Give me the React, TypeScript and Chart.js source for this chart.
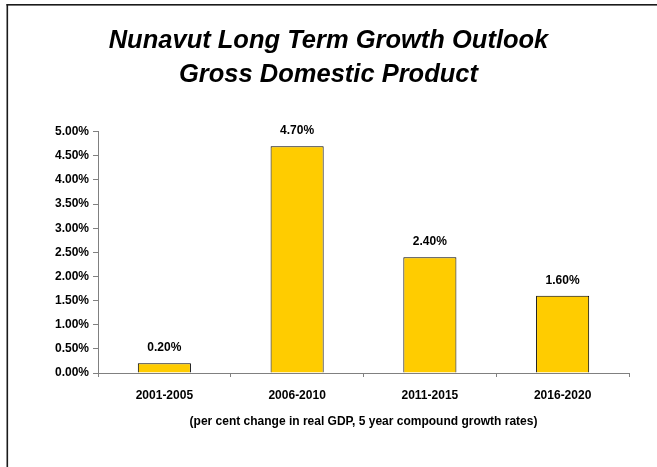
import React, { useEffect, useRef } from "react";
import { Chart, registerables } from "chart.js";

Chart.register(...registerables);

const categories = ["2001-2005", "2006-2010", "2011-2015", "2016-2020"];
const growthValues = [0.2, 4.7, 2.4, 1.6];
const titleLines = ["Nunavut Long Term Growth Outlook", "Gross Domestic Product"];
const xAxisTitle = "(per cent change in real GDP, 5 year compound growth rates)";
const yMin = 0;
const yMax = 5;
const yStep = 0.5;

const FONT = "'Liberation Sans', Arial, Helvetica, sans-serif";

const borderPlugin = {
  id: "frameBorder",
  beforeDraw(chart: any) {
    const ctx = chart.ctx;
    ctx.save();
    ctx.fillStyle = "#ffffff";
    ctx.fillRect(0, 0, chart.width, chart.height);
    ctx.fillStyle = "#1a1a1a";
    ctx.fillRect(6.5, 4, 1.6, chart.height);
    ctx.fillRect(6.5, 4, chart.width, 1.6);
    ctx.restore();
  },
};

const titlePlugin = {
  id: "centredTitle",
  afterDraw(chart: any) {
    const ctx = chart.ctx;
    ctx.save();
    ctx.font = `italic bold 25.5px ${FONT}`;
    ctx.fillStyle = "#000";
    ctx.textAlign = "center";
    ctx.textBaseline = "alphabetic";
    const baselines = [47.5, 82];
    titleLines.forEach((line, i) => {
      ctx.fillText(line, 328.5, baselines[i]);
    });
    ctx.restore();
  },
};

const valueLabelPlugin = {
  id: "valueLabels",
  afterDatasetsDraw(chart: any) {
    const ctx = chart.ctx;
    const meta = chart.getDatasetMeta(0);
    const data = chart.data.datasets[0].data as number[];
    ctx.save();
    ctx.font = `bold 12px ${FONT}`;
    ctx.fillStyle = "#000";
    ctx.textAlign = "center";
    ctx.textBaseline = "alphabetic";
    meta.data.forEach((bar: any, i: number) => {
      ctx.fillText(data[i].toFixed(2) + "%", bar.x, bar.y - 12);
    });
    ctx.restore();
  },
};

export default function App() {
  const ref = useRef<HTMLCanvasElement | null>(null);

  useEffect(() => {
    document.body.style.margin = "0";
    if (!ref.current) return;
    const chart = new Chart(ref.current, {
      type: "bar",
      data: {
        labels: categories,
        datasets: [
          {
            data: growthValues,
            backgroundColor: "#FFCC00",
            borderColor: "#000000",
            borderWidth: 1,
            categoryPercentage: 1,
            barPercentage: 0.4,
          },
        ],
      },
      options: {
        responsive: false,
        animation: false,
        layout: { padding: { top: 131.7, left: 0, right: 28, bottom: 38.3 } },
        plugins: {
          legend: { display: false },
          tooltip: { enabled: false },
          title: { display: false },
        },
        scales: {
          x: {
            afterFit(scale: any) {
              scale.height = 55.7;
            },
            grid: {
              drawOnChartArea: false,
              drawTicks: true,
              tickLength: 4,
              color: "#808080",
              offset: true,
            },
            border: { color: "#808080", width: 1 },
            ticks: {
              color: "#000",
              padding: 11,
              font: { family: FONT, size: 12, weight: "bold" },
            },
            title: {
              display: true,
              text: xAxisTitle,
              color: "#000",
              padding: { top: 0, bottom: 0 },
              font: { family: FONT, size: 12, weight: "bold" },
            },
          },
          y: {
            min: yMin,
            max: yMax,
            afterFit(scale: any) {
              scale.width = 98;
            },
            grid: {
              drawOnChartArea: false,
              drawTicks: true,
              tickLength: 5,
              color: "#808080",
            },
            border: { color: "#808080", width: 1 },
            ticks: {
              stepSize: yStep,
              color: "#000",
              padding: 4,
              font: { family: FONT, size: 12, weight: "bold" },
              callback: (v: any) => Number(v).toFixed(2) + "%",
            },
          },
        },
      },
      plugins: [borderPlugin, titlePlugin, valueLabelPlugin],
    });
    return () => chart.destroy();
  }, []);

  return (
    <canvas ref={ref} width={657} height={467} style={{ display: "block" }} />
  );
}
